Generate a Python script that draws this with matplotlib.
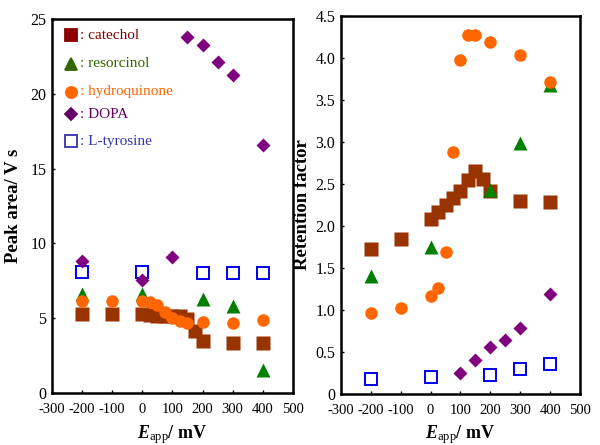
import numpy as np
import matplotlib
matplotlib.use("Agg")
import matplotlib.pyplot as plt

plt.rcParams['font.family'] = ['Liberation Serif', 'DejaVu Serif']
plt.rcParams['mathtext.fontset'] = 'custom'
plt.rcParams['mathtext.rm'] = 'Liberation Serif'
plt.rcParams['mathtext.it'] = 'Liberation Serif:italic'
plt.rcParams['mathtext.bf'] = 'Liberation Serif:bold'
plt.rcParams['mathtext.bfit'] = 'Liberation Serif:bold:italic'

# ---- peak area (left) ----
cat_x_a = [-200, -100, 0, 25, 50, 75, 100, 125, 150, 175, 200, 300, 400]
cat_y_a = [5.28, 5.26, 5.25, 5.2, 5.12, 5.12, 5.12, 5.14, 4.95, 4.12, 3.45, 3.37, 3.32]
res_x_a = [-200, 0, 200, 300, 400]
res_y_a = [6.6, 6.6, 6.28, 5.82, 1.54]
hq_x_a = [-200, -100, 0, 25, 50, 75, 100, 125, 150, 200, 300, 400]
hq_y_a = [6.17, 6.15, 6.17, 6.06, 5.9, 5.39, 4.99, 4.8, 4.68, 4.76, 4.65, 4.88]
dopa_x_a = [-200, 0, 100, 150, 200, 250, 300, 400]
dopa_y_a = [8.85, 7.55, 9.11, 23.8, 23.26, 22.15, 21.26, 16.58]
tyr_x_a = [-200, 0, 200, 300, 400]
tyr_y_a = [8.07, 8.11, 8.05, 8.0, 8.0]

# ---- retention factor (right) ----
cat_x_k = [-200, -100, 0, 25, 50, 75, 100, 125, 150, 175, 200, 300, 400]
cat_y_k = [1.72, 1.85, 2.08, 2.17, 2.25, 2.33, 2.42, 2.55, 2.65, 2.56, 2.41, 2.30, 2.28]
res_x_k = [-200, 0, 200, 300, 400]
res_y_k = [1.40, 1.75, 2.43, 2.99, 3.68]
hq_x_k = [-200, -100, 0, 25, 50, 75, 100, 125, 150, 200, 300, 400]
hq_y_k = [0.96, 1.02, 1.17, 1.26, 1.69, 2.88, 3.98, 4.27, 4.27, 4.19, 4.04, 3.71]
dopa_x_k = [100, 150, 200, 250, 300, 400]
dopa_y_k = [0.25, 0.40, 0.56, 0.64, 0.78, 1.19]
tyr_x_k = [-200, 0, 200, 300, 400]
tyr_y_k = [0.18, 0.20, 0.23, 0.29, 0.35]

labels = [': catechol', ': resorcinol', ': hydroquinone', ': DOPA', ': L-tyrosine']

fig = plt.figure(figsize=(6, 4.45), dpi=100)
ax1 = fig.add_axes([0.0867, 0.117, 0.4013, 0.840])
ax2 = fig.add_axes([0.568, 0.115, 0.399, 0.849])

def draw(ax, cx, cy, rx, ry, hx, hy, dx, dy, tx, ty):
    ax.plot(cx, cy, 's', color='#993300', ms=9.5, mec='none', zorder=2)
    ax.plot(rx, ry, '^', color='#008000', ms=9.5, mec='none', zorder=3)
    ax.plot(hx, hy, 'o', color='#ff6600', ms=9, mec='none', zorder=4)
    ax.plot(tx, ty, 's', mfc='none', mec='#0000ee', ms=8, mew=1.4, zorder=5)
    ax.plot(dx, dy, 'D', color='#800080', ms=7, mec='none', zorder=6)

draw(ax1, cat_x_a, cat_y_a, res_x_a, res_y_a, hq_x_a, hq_y_a,
     dopa_x_a, dopa_y_a, tyr_x_a, tyr_y_a)
draw(ax2, cat_x_k, cat_y_k, res_x_k, res_y_k, hq_x_k, hq_y_k,
     dopa_x_k, dopa_y_k, tyr_x_k, tyr_y_k)

for ax in (ax1, ax2):
    ax.set_xlim(-300, 500)
    ax.set_xticks(np.arange(-300, 501, 100))
    ax.set_xticklabels([str(v) for v in range(-300, 501, 100)])
    for sp in ax.spines.values():
        sp.set_linewidth(1.8)
    ax.tick_params(direction='in', length=2, width=1, labelsize=11.5, pad=4)
    ax.tick_params(axis='x', labelsize=10.5, pad=7)
    ax.set_xlabel(r'$\boldsymbol{E}_{\mathrm{app}}$/ mV', fontsize=13,
                  fontweight='bold', labelpad=5)

ax1.set_ylim(0, 25)
ax1.set_yticks([0, 5, 10, 15, 20, 25])
ax1.set_ylabel('Peak area/ V s', fontsize=13.5, fontweight='bold', labelpad=6)

ax2.set_ylim(0, 4.5)
kt = [0, 0.5, 1.0, 1.5, 2.0, 2.5, 3.0, 3.5, 4.0, 4.5]
ax2.set_yticks(kt)
ax2.set_yticklabels(['0'] + ['%.1f' % v for v in kt[1:]])
ax2.set_ylabel('Retention factor', fontsize=13.5, fontweight='bold', labelpad=3)

# legend drawn by hand
leg_mk = [('s', '#8b0000', '#8b0000'), ('^', '#336600', '#336600'),
          ('o', '#ff6600', '#ff6600'), ('D', '#660066', '#660066'),
          ('s', 'none', '#3333aa')]
leg_tc = ['#800000', '#336600', '#ff6600', '#660066', '#3333aa']
leg_y = [0.957, 0.880, 0.806, 0.745, 0.673]
for (m, fc, ec), tc, yy, lab in zip(leg_mk, leg_tc, leg_y, labels):
    ax1.plot([0.078], [yy], m, mfc=fc, mec=ec, ms=8 if m != 'D' else 6.5,
             mew=1.3, transform=ax1.transAxes, clip_on=False)
    ax1.text(0.115, yy, lab, color=tc, fontsize=11, va='center', ha='left',
             transform=ax1.transAxes)

fig.savefig('out.png', dpi=100)
